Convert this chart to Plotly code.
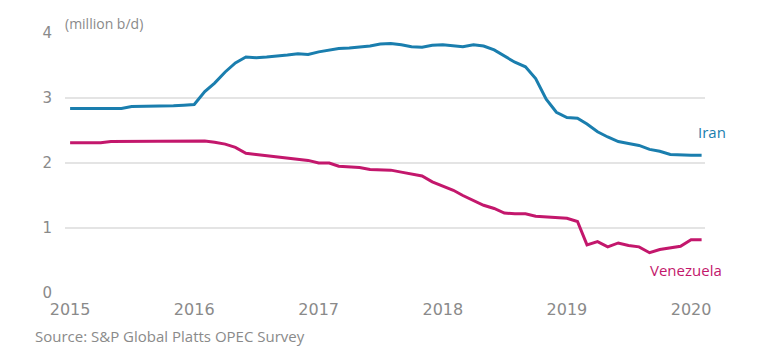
import plotly.graph_objects as go
import pandas as pd

months = pd.date_range("2015-01-01", periods=62, freq="MS").strftime("%Y-%m-%d").tolist()

iran = [2.84, 2.84, 2.84, 2.85, 2.84, 2.84, 2.87, 2.87, 2.87, 2.87, 2.88, 2.89,
        2.90, 3.10, 3.23, 3.40, 3.54, 3.63, 3.62, 3.63, 3.64, 3.66, 3.68, 3.67,
        3.71, 3.74, 3.76, 3.77, 3.78, 3.80, 3.83, 3.84, 3.82, 3.79, 3.78, 3.81,
        3.82, 3.81, 3.79, 3.82, 3.80, 3.74, 3.64, 3.55, 3.48, 3.30, 2.98, 2.78,
        2.70, 2.69, 2.60, 2.48, 2.40, 2.33, 2.30, 2.27, 2.21, 2.18, 2.13, 2.12,
        2.12, 2.12]

venezuela = [2.31, 2.31, 2.31, 2.31, 2.33, 2.33, 2.33, 2.33, 2.33, 2.33, 2.34, 2.34,
             2.34, 2.34, 2.32, 2.29, 2.24, 2.15, 2.13, 2.11, 2.10, 2.08, 2.06, 2.04,
             2.00, 2.00, 1.95, 1.94, 1.93, 1.90, 1.90, 1.89, 1.86, 1.83, 1.80, 1.71,
             1.65, 1.58, 1.50, 1.42, 1.35, 1.30, 1.23, 1.22, 1.22, 1.18, 1.17, 1.17,
             1.15, 1.10, 0.74, 0.79, 0.71, 0.77, 0.73, 0.71, 0.62, 0.67, 0.70, 0.72,
             0.82, 0.82]

x_tickvals = ["2015-01-01", "2016-01-01", "2017-01-01", "2018-01-01", "2019-01-01", "2020-01-01"]
x_ticktext = ["2015", "2016", "2017", "2018", "2019", "2020"]
y_tickvals = [0, 1, 2, 3, 4]

IRAN_C = "#1a7eae"
VEN_C = "#c3176c"
GRAY = "#8a8a8a"

fig = go.Figure()
fig.add_trace(go.Scatter(x=months, y=iran, mode="lines", name="Iran",
                         line=dict(color=IRAN_C, width=3)))
fig.add_trace(go.Scatter(x=months, y=venezuela, mode="lines", name="Venezuela",
                         line=dict(color=VEN_C, width=3)))

fig.add_annotation(x=months[-1], y=iran[-1], text="Iran", showarrow=False,
                   xanchor="left", yanchor="middle", xshift=-6, yshift=23,
                   font=dict(color=IRAN_C, size=15, family="Open Sans"))
fig.add_annotation(x=months[-1], y=venezuela[-1], text="Venezuela", showarrow=False,
                   xanchor="right", yanchor="middle", xshift=22, yshift=-30,
                   font=dict(color=VEN_C, size=15, family="Open Sans"))
fig.add_annotation(xref="paper", yref="paper", x=-0.003, y=1.038, text="(million b/d)",
                   showarrow=False, xanchor="left", yanchor="middle",
                   font=dict(color=GRAY, size=14, family="Open Sans"))
fig.add_annotation(xref="paper", yref="paper", x=-0.05, y=-0.165,
                   text="Source: S&P Global Platts OPEC Survey",
                   showarrow=False, xanchor="left", yanchor="middle",
                   font=dict(color=GRAY, size=15, family="Open Sans"))

fig.update_layout(
    width=759, height=358,
    margin=dict(l=57, r=62, t=25, b=73),
    paper_bgcolor="white", plot_bgcolor="white",
    showlegend=False,
    font=dict(family="DejaVu Sans", color=GRAY, size=16),
)
fig.update_xaxes(type="date", range=["2014-12-17", "2020-02-11"],
                 tickvals=x_tickvals, ticktext=x_ticktext,
                 showgrid=False, showline=False, zeroline=False,
                 ticks="", ticklabelstandoff=5)
fig.update_yaxes(range=[0, 4], tickvals=y_tickvals,
                 tickfont=dict(size=15),
                 showgrid=True, gridcolor="#e4e4e4", gridwidth=1.5,
                 zeroline=False, showline=False, ticks="",
                 ticklabelstandoff=12)

fig.write_html("out.html")
